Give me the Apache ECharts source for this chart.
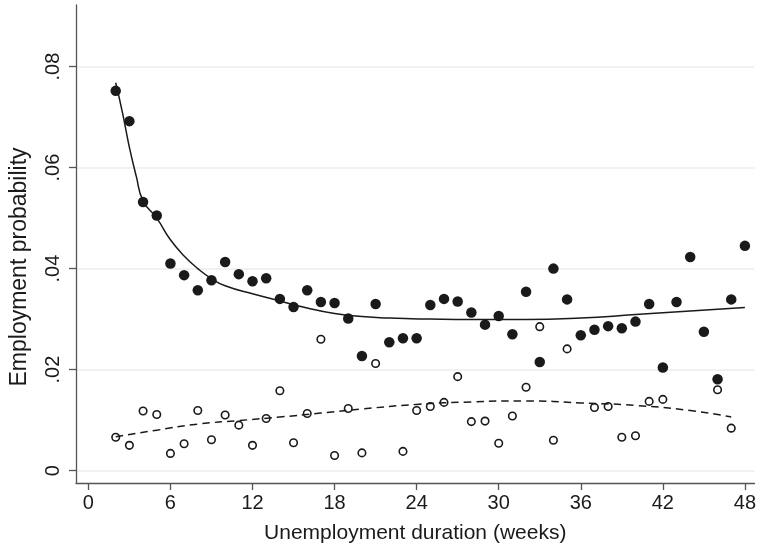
<!DOCTYPE html>
<html>
<head>
<meta charset="utf-8">
<script src="https://cdn.jsdelivr.net/npm/echarts@6/dist/echarts.min.js"></script>
<style>
html,body{margin:0;padding:0;background:#fff;}
#chart{width:759px;height:549px;}
</style>
</head>
<body>
<div id="chart"></div>
<script>
// ---- data ----
const filledWeeks = [2,3,4,5,6,7,8,9,10,11,12,13,14,15,16,17,18,19,20,21,22,23,24,25,26,27,28,29,30,31,32,33,34,35,36,37,38,39,40,41,42,43,44,45,46,47,48];
const filledValues = [0.0752,0.0692,0.0532,0.0505,0.0410,0.0387,0.0357,0.0377,0.0413,0.0389,0.0375,0.0381,0.0340,0.0324,0.0357,0.0334,0.0332,0.0301,0.0227,0.0330,0.0254,0.0262,0.0262,0.0328,0.0340,0.0335,0.0313,0.0289,0.0306,0.0270,0.0354,0.0215,0.0400,0.0339,0.0268,0.0279,0.0286,0.0282,0.0295,0.0330,0.0204,0.0334,0.0423,0.0275,0.0181,0.0339,0.0445];

const hollowWeeks = [2,3,4,5,6,7,8,9,10,11,12,13,14,15,16,17,18,19,20,21,23,24,25,26,27,28,29,30,31,32,33,34,35,37,38,39,40,41,42,46,47];
const hollowValues = [0.0066,0.0050,0.0118,0.0111,0.0034,0.0053,0.0119,0.0061,0.0110,0.0090,0.0050,0.0103,0.0158,0.0055,0.0113,0.0260,0.0030,0.0123,0.0035,0.0212,0.0038,0.0119,0.0127,0.0135,0.0186,0.0097,0.0098,0.0054,0.0108,0.0165,0.0285,0.0060,0.0241,0.0125,0.0127,0.0066,0.0069,0.0137,0.0141,0.0160,0.0084];

const fitSolidWeeks = [2,2.5,3,3.5,4,5,6,7,8,9,10,12,14,16,18,20,22,25,28,32,36,40,44,48];
const fitSolidValues = [0.0768,0.0708,0.0640,0.0583,0.0534,0.0500,0.0457,0.0425,0.0400,0.0380,0.0366,0.0350,0.0336,0.0322,0.0311,0.0305,0.0302,0.0300,0.0299,0.0299,0.0302,0.0309,0.0316,0.0323];

const fitDashWeeks = [2,5,8,11,14,17,20,24,28,32,36,40,44,47];
const fitDashValues = [0.0067,0.0080,0.0092,0.0099,0.0106,0.0114,0.0122,0.0131,0.0136,0.0138,0.0134,0.0129,0.0119,0.0106];

const xTicks = [0,6,12,18,24,30,36,42,48];
const xTickLabels = ['0','6','12','18','24','30','36','42','48'];
const yTicks = [0,0.02,0.04,0.06,0.08];
const yTickLabels = ['0','.02','.04','.06','.08'];

const xTitle = 'Unemployment duration (weeks)';
const yTitle = 'Employment probability';

// ---- build ----
const zip = (a, b) => a.map((v, i) => [v, b[i]]);
const FONT = 'Liberation Sans';
const INK = '#1a1a1a';
const AXIS = '#555555';

const chart = echarts.init(document.getElementById('chart'), null, {renderer: 'canvas'});
chart.setOption({
  animation: false,
  backgroundColor: '#ffffff',
  grid: {left: 73, right: 0, top: 5, bottom: 66, containLabel: false},
  xAxis: {
    type: 'value',
    min: -0.904, max: 48.7,
    name: xTitle,
    nameLocation: 'middle',
    nameGap: 40,
    nameTextStyle: {fontFamily: FONT, fontSize: 21, color: INK},
    axisLine: {show: true, onZero: false, lineStyle: {color: AXIS, width: 1.3}},
    axisTick: {show: true, length: 7, customValues: xTicks, lineStyle: {color: AXIS, width: 1.3}},
    axisLabel: {
      customValues: xTicks,
      margin: 10,
      fontFamily: FONT, fontSize: 20, color: INK,
      formatter: v => xTickLabels[xTicks.indexOf(v)] ?? ''
    },
    splitLine: {show: false}
  },
  yAxis: {
    type: 'value',
    min: -0.00246, max: 0.0922,
    name: yTitle,
    nameLocation: 'middle',
    nameGap: 45,
    nameRotate: 90,
    nameTextStyle: {fontFamily: FONT, fontSize: 23, color: INK, padding: [0, 46, 0, 0]},
    axisLine: {show: true, onZero: false, lineStyle: {color: AXIS, width: 1.3}},
    axisTick: {show: true, length: 7, customValues: yTicks, lineStyle: {color: AXIS, width: 1.3}},
    axisLabel: {
      customValues: yTicks,
      rotate: 90,
      margin: 13,
      fontFamily: FONT, fontSize: 20, color: INK,
      formatter: v => {
        const i = yTicks.findIndex(t => Math.abs(t - v) < 1e-9);
        return i >= 0 ? yTickLabels[i] : '';
      }
    },
    splitLine: {show: true, lineStyle: {color: '#ececec', width: 1.5}}
  },
  series: [
    {
      type: 'scatter',
      data: zip(hollowWeeks, hollowValues),
      symbol: 'circle',
      symbolSize: 7.5,
      itemStyle: {color: 'rgba(0,0,0,0)', borderColor: INK, borderWidth: 1.6, opacity: 1},
      z: 3
    },
    {
      type: 'scatter',
      data: zip(filledWeeks, filledValues),
      symbol: 'circle',
      symbolSize: 10.5,
      itemStyle: {color: INK, opacity: 1},
      z: 3
    },
    {
      type: 'line',
      data: zip(fitSolidWeeks, fitSolidValues),
      showSymbol: false,
      smooth: 0.5,
      lineStyle: {color: INK, width: 1.5},
      z: 4
    },
    {
      type: 'line',
      data: zip(fitDashWeeks, fitDashValues),
      showSymbol: false,
      smooth: 0.5,
      lineStyle: {color: INK, width: 1.5, type: [7.5, 5]},
      z: 4
    }
  ]
});
</script>
</body>
</html>
